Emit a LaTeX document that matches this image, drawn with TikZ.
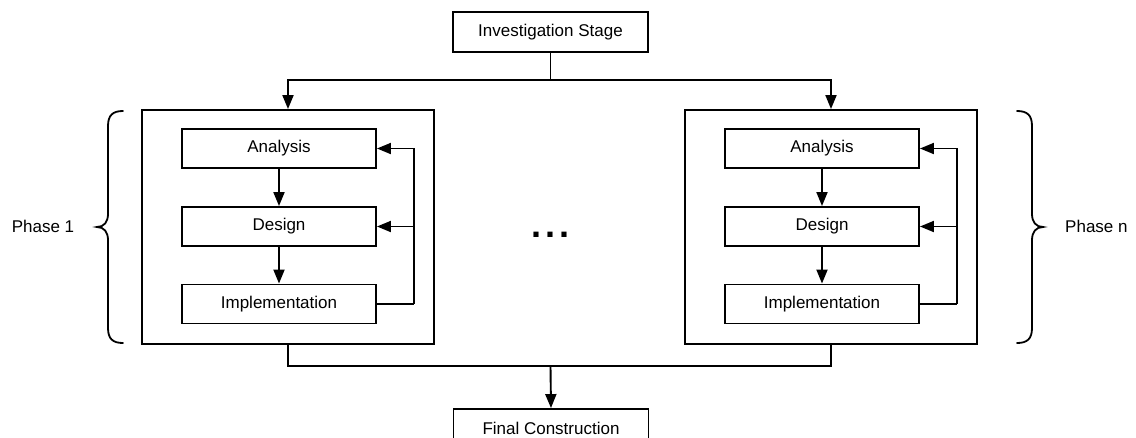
\documentclass[tikz,border=0pt]{standalone}
\usepackage{fontspec}
\setmainfont{Liberation Sans}
\usetikzlibrary{arrows.meta}
\begin{document}
\begin{tikzpicture}[x=1pt,y=-1pt,
  every node/.style={font=\fontsize{17}{20}\selectfont},
  box/.style={draw, line width=1.9pt, rectangle, inner sep=0pt, anchor=center},
  stagebox/.style={box, minimum width=195pt, minimum height=40pt},
  phasebox/.style={box, minimum width=292pt, minimum height=234pt},
  stepbox/.style={box, minimum width=194pt, minimum height=39pt},
  conn/.style={line width=1.9pt},
  arr/.style={conn, -{Triangle[length=14pt,width=11pt]}},
  bracepath/.style={line width=1.8pt, line cap=round}
]
\useasboundingbox (0,0) rectangle (1136,437);

% top
\node[stagebox] (top) at (550.5,32) {Investigation Stage};
\coordinate (tj) at (550.5,80);

% phase boxes
\node[phasebox] (p1) at (288,227) {};
\node[phasebox] (pn) at (831,227) {};

% left inner
\node[stepbox] (a1) at (279,148.5) {Analysis};
\node[stepbox] (d1) at (279,226.5) {Design};
\node[stepbox] (i1) at (279,304) {Implementation};
\coordinate (f1) at (414,304);

% right inner
\node[stepbox] (a2) at (822,148.5) {Analysis};
\node[stepbox] (d2) at (822,226.5) {Design};
\node[stepbox] (i2) at (822,304) {Implementation};
\coordinate (f2) at (957,304);

% final
\node[stagebox, minimum height=38pt] (fin) at (551,428) {Final Construction};
\coordinate (bj) at (550.5,366);

% connectors top
\draw[conn] (top.south) -- (tj);
\draw[arr] (tj) -| (p1.north);
\draw[arr] (tj) -| (pn.north);

% inner arrows
\draw[arr] (a1) -- (d1);
\draw[arr] (d1) -- (i1);
\draw[arr] (a2) -- (d2);
\draw[arr] (d2) -- (i2);

% feedback
\draw[conn] (i1.east) -- (f1);
\draw[arr] (f1) |- (a1.east);
\draw[arr] (f1 |- d1.east) -- (d1.east);
\draw[conn] (i2.east) -- (f2);
\draw[arr] (f2) |- (a2.east);
\draw[arr] (f2 |- d2.east) -- (d2.east);

% bottom
\draw[conn] (p1.south) |- (bj);
\draw[conn] (pn.south) |- (bj);
\draw[arr] (bj) -- (fin.north);

% dots
\node[anchor=base, inner sep=0pt, font=\fontsize{36}{36}\selectfont\bfseries] (dots) at (550,237.5) {.\kern4pt.\kern4pt.};

% braces
\draw[bracepath] (123,111) .. controls (113,111) and (108,115) .. (108,126) -- (108,214) .. controls (108,222) and (104,227) .. (97,227)
  .. controls (104,227) and (108,232) .. (108,240) -- (108,328) .. controls (108,339) and (113,343) .. (123,343);
\draw[bracepath] (1017,111) .. controls (1027,111) and (1032,115) .. (1032,126) -- (1032,214) .. controls (1032,222) and (1036,227) .. (1043,227)
  .. controls (1036,227) and (1032,232) .. (1032,240) -- (1032,328) .. controls (1032,339) and (1027,343) .. (1017,343);

\node[anchor=center] (ph1) at (43,226) {Phase 1};
\node[anchor=west, inner sep=0pt] (phn) at (1065,226) {Phase n};
\end{tikzpicture}
\end{document}
